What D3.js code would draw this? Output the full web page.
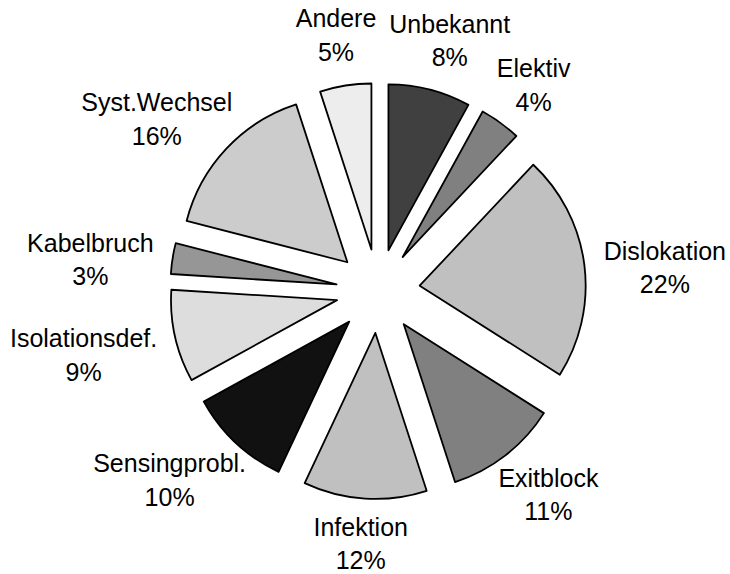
<!DOCTYPE html>
<html>
<head>
<meta charset="utf-8">
<script src="https://cdn.jsdelivr.net/npm/d3@7"></script>
<style>
  body { margin: 0; background: #fff; }
  text { font-family: "Liberation Sans", Arial, sans-serif; font-size: 25px; fill: #000; }
</style>
</head>
<body>
<script>
// Ursachen (Anteile in %), im Uhrzeigersinn ab 12 Uhr
var causes = ["Unbekannt", "Elektiv", "Dislokation", "Exitblock", "Infektion",
              "Sensingprobl.", "Isolationsdef.", "Kabelbruch", "Syst.Wechsel", "Andere"];
var shares = [8, 4, 22, 11, 12, 10, 9, 3, 16, 5];
var greys  = ["#404040", "#808080", "#c0c0c0", "#808080", "#c0c0c0",
              "#111111", "#dddddd", "#969696", "#cccccc", "#ededed"];

var width = 730, height = 574;
var cx = 378, cy = 291;
var radius = 166, explode = 42, labelR = 228;

var svg = d3.select("body").append("svg")
    .attr("width", width)
    .attr("height", height);

var pie = d3.pie().sort(null).value(function(d) { return d; });
var arcs = pie(shares);

var arc = d3.arc().innerRadius(0).outerRadius(radius);

var g = svg.append("g").attr("transform", "translate(" + cx + "," + cy + ")");

g.selectAll("path")
    .data(arcs)
    .enter()
    .append("path")
    .attr("d", arc)
    .attr("fill", function(d, i) { return greys[i]; })
    .attr("stroke", "#000")
    .attr("stroke-width", 1.8)
    .attr("stroke-linejoin", "round")
    .attr("transform", function(d) {
        var a = (d.startAngle + d.endAngle) / 2;
        return "translate(" + (explode * Math.sin(a)) + "," + (-explode * Math.cos(a)) + ")";
    });

// Beschriftung: Box so legen, dass sie am Ankerpunkt ausserhalb anliegt
var labels = g.selectAll("g.lab")
    .data(arcs)
    .enter()
    .append("g")
    .attr("class", "lab");

labels.append("text")
    .attr("class", "l1")
    .attr("text-anchor", "middle")
    .text(function(d, i) { return causes[i]; });

labels.append("text")
    .attr("class", "l2")
    .attr("text-anchor", "middle")
    .text(function(d) { return d.data + "%"; });

labels.each(function(d) {
    var sel = d3.select(this);
    var w = Math.max(sel.select(".l1").node().getComputedTextLength(),
                     sel.select(".l2").node().getComputedTextLength());
    var a = (d.startAngle + d.endAngle) / 2;
    var s = Math.sin(a), c = Math.cos(a);
    var bx = labelR * s + w / 2 * s;
    // seitliche Beschriftungen sitzen etwas tiefer
    var by = -labelR * c - 28 * c - 2 + 12 * s * s;
    sel.select(".l1").attr("x", bx).attr("y", by - 9);
    sel.select(".l2").attr("x", bx).attr("y", by + 24.5);
});
</script>
</body>
</html>
